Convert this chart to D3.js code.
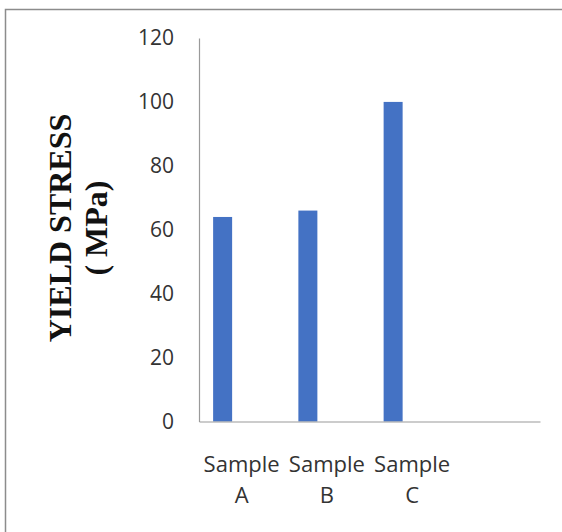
<!DOCTYPE html>
<html>
<head>
<meta charset="utf-8">
<script src="https://cdn.jsdelivr.net/npm/d3@7"></script>
<style>
  body { margin: 0; background: #fff; }
</style>
</head>
<body>
<svg id="chart"></svg>
<script>
// chart data
const categories = ['Sample A', 'Sample B', 'Sample C', '']
const yieldStress = [64, 66, 100, null]
const yTicks = [0, 20, 40, 60, 80, 100, 120]
const seriesSlots = ['Yield stress', 'slot2', 'slot3']   // excel left room for 3 series, only first used

const width = 562
const height = 532
const margin = {top: 38, right: 22, bottom: 110.5, left: 199}

const svg = d3.select('#chart')
    .attr('width', width)
    .attr('height', height)

// outer frame (runs off the right and bottom edge like the source)
svg.append('rect')
    .attr('x', 5.5).attr('y', 9.5)
    .attr('width', width + 10).attr('height', height + 10)
    .attr('fill', 'none')
    .attr('stroke', '#8c8c8c')
    .attr('stroke-width', 1.5)

const innerW = width - margin.left - margin.right
const innerH = height - margin.top - margin.bottom

const xScale = d3.scaleBand()
    .domain(categories.map((d, i) => i))
    .range([0, innerW])
const slotScale = d3.scaleBand()
    .domain(seriesSlots)
    .range([0, xScale.bandwidth()])
    .paddingOuter(0.743)
const yScale = d3.scaleLinear()
    .domain([0, 120])
    .range([innerH, 0])

const g = svg.append('g')
    .attr('transform', `translate(${margin.left},${margin.top})`)

g.selectAll('rect.bar').data(yieldStress.map((v, i) => ({v, i})).filter(d => d.v != null))
    .enter().append('rect')
        .attr('class', 'bar')
        .attr('fill', '#4472c4')
        .attr('x', d => xScale(d.i) + slotScale(seriesSlots[0]))
        .attr('width', slotScale.bandwidth())
        .attr('y', d => yScale(d.v))
        .attr('height', d => innerH - yScale(d.v))

const yAxis = g.append('g')
    .call(d3.axisLeft(yScale).tickValues(yTicks).tickSize(0).tickPadding(25))
yAxis.select('.domain').attr('stroke', '#9a9a9a').attr('stroke-width', 1.2)
yAxis.selectAll('text')
    .attr('font-family', '"Open Sans", sans-serif')
    .attr('font-size', 21)
    .attr('fill', '#333')

const xAxis = g.append('g')
    .attr('transform', `translate(0,${innerH})`)
    .call(d3.axisBottom(xScale).tickSize(0).tickFormat(''))
xAxis.select('.domain').attr('stroke', '#9a9a9a').attr('stroke-width', 1.2)

// two-line category labels
xAxis.selectAll('.tick').each(function(i) {
    const words = categories[i].split(' ')
    const t = d3.select(this).append('text')
        .attr('font-family', '"Open Sans", sans-serif')
        .attr('font-size', 22)
        .attr('fill', '#333')
        .attr('text-anchor', 'middle')
    words.forEach((w, k) => {
        t.append('tspan').attr('x', 0).attr('y', 50 + k * 31.5).text(w)
    })
})

// y title
const title = svg.append('text')
    .attr('transform', 'translate(0,228) rotate(-90)')
    .attr('font-family', '"Liberation Serif", "Times New Roman", serif')
    .attr('font-weight', 'bold')
    .attr('font-size', 32)
    .attr('fill', '#111')
    .attr('text-anchor', 'middle')
title.append('tspan').attr('x', 0).attr('y', 71).text('YIELD STRESS')
title.append('tspan').attr('x', 0).attr('y', 107).text('( MPa)')
</script>
</body>
</html>
